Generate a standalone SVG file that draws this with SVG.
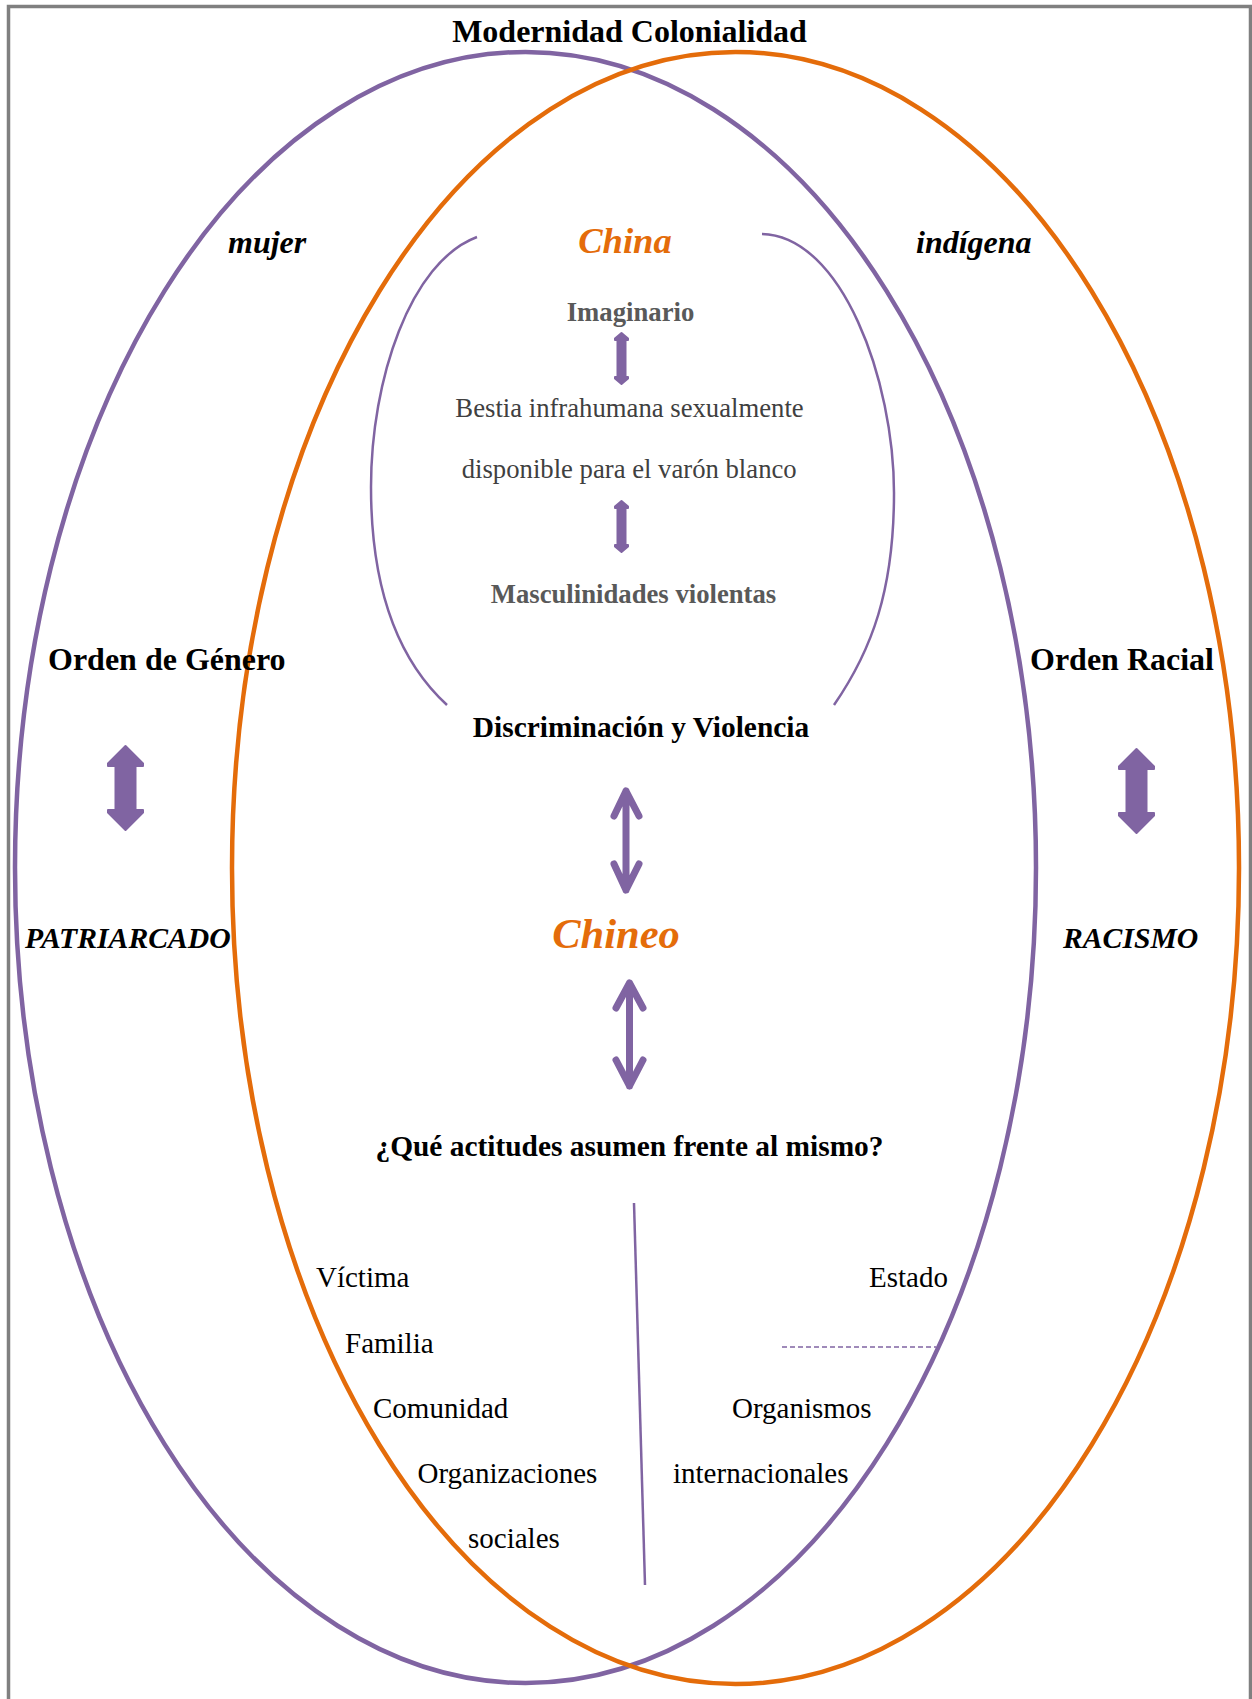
<svg xmlns="http://www.w3.org/2000/svg" width="1252" height="1699" viewBox="0 0 1252 1699">
<style>
  text { font-family: "Liberation Serif", "Times New Roman", serif; }
  .b { font-weight: bold; }
  .bi { font-weight: bold; font-style: italic; }
  .blk { fill: #000000; }
  .gray { fill: #595959; }
  .dgray { fill: #404040; }
  .org { fill: #E46C0A; }
  .ell { fill: none; stroke-width: 4.5; }
  .pur { stroke: #8064A2; }
  .orgs { stroke: #E46C0A; }
  .thin { fill: none; stroke: #8064A2; stroke-width: 2.5; }
  .larrow { fill: none; stroke: #8064A2; stroke-width: 7; stroke-linecap: round; stroke-linejoin: round; }
  .barrow { fill: #8064A2; stroke: #8064A2; stroke-width: 2; stroke-linejoin: round; }
  .c { text-anchor: middle; }
  .lst { font-size: 29px; }
</style>
<defs>
  <path id="bigArrow" d="M0,1 L17.5,18.5 L17.5,21 L10,21 L10,65 L17.5,65 L17.5,67.5 L0,85 L-17.5,67.5 L-17.5,65 L-10,65 L-10,21 L-17.5,21 L-17.5,18.5 Z"/>
  <path id="smallArrow" d="M0,1 L6.5,6.5 L6.5,8 L4,8 L4,45 L6.5,45 L6.5,46.5 L0,52 L-6.5,46.5 L-6.5,45 L-4,45 L-4,8 L-6.5,8 L-6.5,6.5 Z"/>
</defs>

<rect width="1252" height="1699" fill="#ffffff"/>
<path id="frame" d="M8.5,1699 V6.5 H1250.5 V1699" fill="none" stroke="#808080" stroke-width="3.5"/>

<g id="ellipse-genero">
  <ellipse class="ell pur" cx="525.5" cy="867.5" rx="510.5" ry="815.5"/>
</g>
<g id="ellipse-racial">
  <ellipse class="ell orgs" cx="735.5" cy="868" rx="503.5" ry="816"/>
</g>

<g id="title">
  <text class="b blk c" x="629.5" y="42" font-size="32">Modernidad Colonialidad</text>
</g>

<g id="node-mujer"><text class="bi blk" x="228" y="253" font-size="32">mujer</text></g>
<g id="node-indigena"><text class="bi blk" x="916" y="253" font-size="32">indígena</text></g>

<g id="node-china">
  <path class="thin" d="M477,237 C410,262 371,380 371,487 C371,590 398,660 447,705"/>
  <path class="thin" d="M762,234 C842,236 894,380 894,493 C894,590 872,650 834,705"/>
  <text class="bi org c" x="625" y="253" font-size="36.6">China</text>
  <text class="b gray c" x="630.5" y="321" font-size="26.7">Imaginario</text>
  <text class="dgray c" x="629.5" y="417" font-size="26.7">Bestia infrahumana sexualmente</text>
  <text class="dgray c" x="629.2" y="478" font-size="26.7">disponible para el varón blanco</text>
  <text class="b gray c" x="633.5" y="603" font-size="26.7">Masculinidades violentas</text>
</g>

<g id="node-orden-genero">
  <text class="b blk" x="48" y="670" font-size="32">Orden de Género</text>
  <text class="bi blk" x="25" y="948" font-size="29.7">PATRIARCADO</text>
</g>
<g id="node-orden-racial">
  <text class="b blk" x="1030" y="670" font-size="32">Orden Racial</text>
  <text class="bi blk" x="1063" y="948" font-size="29.7">RACISMO</text>
</g>

<g id="node-discriminacion">
  <text class="b blk c" x="641" y="737" font-size="29.4">Discriminación y Violencia</text>
</g>
<g id="node-chineo">
  <text class="bi org c" x="616" y="948" font-size="42.5">Chineo</text>
</g>
<g id="node-actitudes">
  <text class="b blk c" x="629.5" y="1156" font-size="29.4">¿Qué actitudes asumen frente al mismo?</text>
</g>

<g id="node-actores-sociales">
  <text class="blk lst" x="316" y="1287">Víctima</text>
  <text class="blk lst" x="345" y="1353">Familia</text>
  <text class="blk lst" x="373" y="1418">Comunidad</text>
  <text class="blk lst" x="417.5" y="1483">Organizaciones</text>
  <text class="blk lst" x="468" y="1548">sociales</text>
</g>
<g id="node-actores-estatales">
  <text class="blk lst" x="869" y="1287">Estado</text>
  <text class="blk lst" x="732" y="1418">Organismos</text>
  <text class="blk lst" x="673" y="1483">internacionales</text>
</g>

<g id="connectors">
  <use href="#bigArrow" class="barrow" transform="translate(125.5,745)"/>
  <use href="#bigArrow" class="barrow" transform="translate(1136.5,748)"/>
  <use href="#smallArrow" class="barrow" transform="translate(621.5,332)"/>
  <use href="#smallArrow" class="barrow" transform="translate(621.5,500)"/>
  <path class="larrow" d="M626,791 V890 M614,816 L626,791 L639,816 M614,864 L626,890 L639,864"/>
  <path class="larrow" d="M629.5,983 V1086 M616,1008 L629.5,983 L643,1008 M616,1060 L629.5,1086 L643,1060"/>
  <path d="M634,1203 L645,1585" fill="none" stroke="#8064A2" stroke-width="2.5"/>
  <path d="M782,1347 H936" fill="none" stroke="#8064A2" stroke-width="1.5" stroke-dasharray="5 3"/>
</g>
</svg>
